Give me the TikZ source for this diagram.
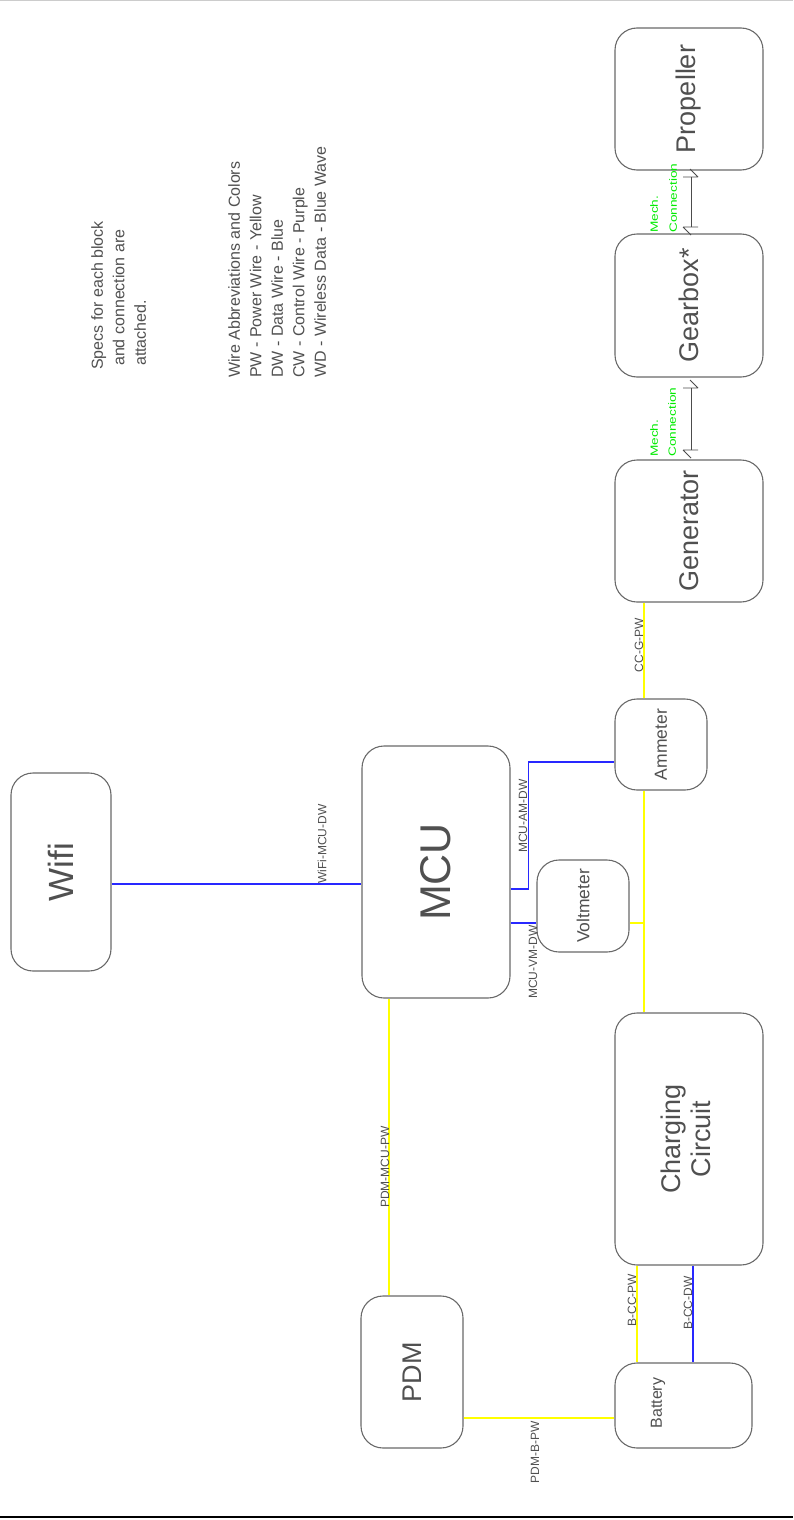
\documentclass[tikz,border=0pt]{standalone}
\usepackage{fontspec}
\setmainfont{Liberation Sans}
\definecolor{boxc}{RGB}{105,105,105}
\definecolor{txtc}{RGB}{80,80,80}
\definecolor{yel}{RGB}{255,255,0}
\definecolor{blu}{RGB}{40,40,255}
\definecolor{grn}{RGB}{0,235,0}
\begin{document}
\begin{tikzpicture}[x=1pt,y=-1pt,
  box/.style={draw=boxc, line width=1.1pt, rounded corners=22pt, inner sep=0pt, text=txtc},
  big/.style={font=\fontsize{27}{30}\selectfont},
  pw/.style={draw=yel, line width=1.4pt},
  dw/.style={draw=blu, line width=1.4pt},
  lbl/.style={rotate=90, text=txtc, inner sep=0pt, font=\fontsize{12}{12}\selectfont},
  mech/.style={rotate=90, anchor=west, text=grn, inner sep=0pt, font=\fontsize{10.5}{10.5}\selectfont},
  mline/.style={draw=black!70, line width=0.9pt},
  note/.style={rotate=90, anchor=north west, inner sep=0pt, align=left, text=txtc, font=\fontsize{16}{21.5}\selectfont},
]
\useasboundingbox (0,0) rectangle (793,1520);
\draw[black!20, line width=1pt] (0,0.5) -- (793,0.5);
\draw[black, line width=2pt] (0,1517) -- (793,1517);

% blocks
\node[box, big, minimum width=148pt, minimum height=142pt] (prop) at (689,99) {\rotatebox{90}{Propeller}};
\node[box, big, minimum width=148pt, minimum height=143pt] (gear) at (689,305.5) {\rotatebox{90}{Gearbox*}};
\node[box, big, minimum width=148pt, minimum height=142pt] (gen) at (689,531) {\rotatebox{90}{Generator}};
\node[box, minimum width=92pt, minimum height=91pt, font=\fontsize{17.5}{17.5}\selectfont] (amm) at (661,744.5) {\rotatebox{90}{Ammeter}};
\node[box, minimum width=92pt, minimum height=92pt, font=\fontsize{17.5}{17.5}\selectfont] (volt) at (583,906) {\rotatebox{90}{Voltmeter}};
\node[box, minimum width=148pt, minimum height=252pt, font=\fontsize{43}{43}\selectfont] (mcu) at (436,872) {\rotatebox{90}{MCU}};
\node[box, minimum width=100pt, minimum height=198pt, font=\fontsize{35}{35}\selectfont] (wifi) at (61,872) {\rotatebox{90}{Wifi}};
\node[box, big, minimum width=148pt, minimum height=252pt] (cc) at (689,1139) {\rotatebox{90}{\begin{tabular}{@{}c@{}}Charging\\Circuit\end{tabular}}};
\node[box, big, minimum width=102pt, minimum height=152pt] (pdm) at (412,1372) {\rotatebox{90}{PDM}};
\node[box, minimum width=137pt, minimum height=85pt] (bat) at (683.5,1405.5) {};
\node[rotate=90, text=txtc, inner sep=0pt, font=\fontsize{16}{16}\selectfont] (battxt) at (658,1403) {Battery};

% notes
\node[note] (specs) at (91,370) {Specs for each block\\\hspace{4pt}and connection are\\\hspace{4pt}attached.};
\node[note] (legend) at (228,378) {Wire Abbreviations and Colors\\PW - Power Wire - Yellow\\DW - Data Wire - Blue\\CW - Control Wire - Purple\\WD - Wireless Data - Blue Wave};

% data wires
\draw[dw] (wifi.east |- 0,884) -- (mcu.west |- 0,884);
\node[lbl, anchor=west] (l1) at (322,884) {WiFi-MCU-DW};
\draw[dw] (mcu.east |- 0,889) -- ++(18,0) |- (amm.west |- 0,762);
\node[lbl] (l2) at (523,816) {MCU-AM-DW};
\draw[dw] (mcu.east |- 0,923) -- (volt.west |- 0,923);
\node[lbl] (l3) at (533,962) {MCU-VM-DW};
\draw[dw] (cc.south -| 693,0) -- (bat.north -| 693,0);
\node[lbl] (l4) at (688,1303) {B-CC-DW};

% power wires
\coordinate (vj) at (644,923);
\draw[pw] (gen.south -| 644,0) -- (amm.north -| 644,0);
\node[lbl] (l5) at (639,645) {CC-G-PW};
\draw[pw] (amm.south -| 644,0) -- (cc.north -| 644,0);
\draw[pw] (volt.east |- vj) -- (vj);
\draw[pw] (mcu.south -| 389,0) -- (pdm.north -| 389,0);
\node[lbl] (l6) at (385,1167) {PDM-MCU-PW};
\draw[pw] (pdm.east |- 0,1418) -- (bat.west |- 0,1418);
\node[lbl] (l7) at (535,1452) {PDM-B-PW};
\draw[pw] (cc.south -| 637,0) -- (bat.north -| 637,0);
\node[lbl] (l8) at (632,1300) {B-CC-PW};

% mechanical connections
\foreach \ya/\yb in {177/227, 388/450} {
  \draw[mline] (691,\ya) -- (691,\yb);
  \draw[mline] (683,\ya) -- (698,\ya) (690,\ya-8) -- (698,\ya);
  \draw[mline] (683,\yb) -- (698,\yb) (683,\yb) -- (691,\yb+8);
}
\node[mech] (m1) at (654,233) {\scalebox{1.3}[1]{Mech.}};
\node[mech] (m2) at (673,233) {\scalebox{1.3}[1]{Connection}};
\node[mech] (m3) at (654,457) {\scalebox{1.3}[1]{Mech.}};
\node[mech] (m4) at (672,457) {\scalebox{1.3}[1]{Connection}};
\end{tikzpicture}
\end{document}
